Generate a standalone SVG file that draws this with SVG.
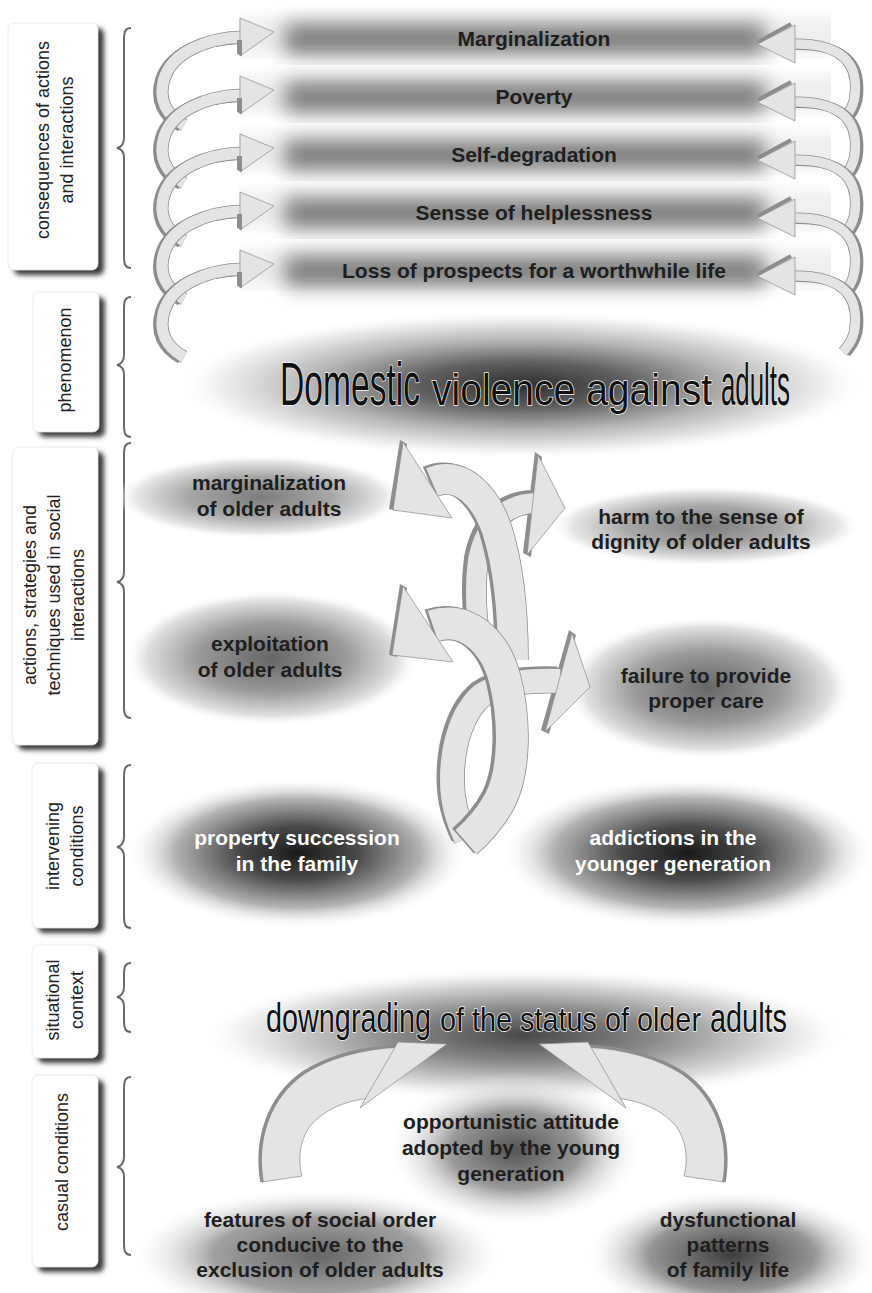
<svg xmlns="http://www.w3.org/2000/svg" width="872" height="1293" viewBox="0 0 872 1293">
<defs>
<style>
.lbl{font-family:"Liberation Sans",Arial,sans-serif;font-size:18px;fill:#222;text-anchor:middle}
.b{font-family:"Liberation Sans",Arial,sans-serif;font-size:21px;font-weight:bold;text-anchor:middle;fill:#1e1e1e}
.w{fill:#fff}
.big{font-family:"Liberation Sans",Arial,sans-serif;fill:#111;stroke:#fff;stroke-width:1.4;paint-order:stroke}
.box{fill:#fff;stroke:#e4e4e4;stroke-width:0.8}
.bsh{fill:#3c3c3c;filter:url(#blur2)}
.brace{fill:none;stroke:#6a6a6a;stroke-width:2}
.rib{fill:none;stroke-linecap:butt}
.rd{stroke:#8d8d8d}
.ro{stroke:#8a8a8a}
.rf{stroke:#e3e4e6}
.head{fill:#e3e4e6;stroke:#8a8a8a;stroke-width:0.7}
.dk{fill:#8d8d8d}
.bar{fill:url(#barG)}
.core{fill:#7c7c7c;filter:url(#blur10)}
</style>
<filter id="blur2" x="-20%" y="-20%" width="140%" height="140%"><feGaussianBlur stdDeviation="2.5"/></filter>
<filter id="blur10" x="-30%" y="-150%" width="160%" height="400%"><feGaussianBlur stdDeviation="10"/></filter>
<linearGradient id="barG" x1="0" y1="0" x2="0" y2="1">
<stop offset="0" stop-color="#ffffff"/><stop offset="0.35" stop-color="#f1f1f1"/><stop offset="0.7" stop-color="#ededed"/><stop offset="1" stop-color="#fbfbfb"/>
</linearGradient>
<radialGradient id="gMid"><stop offset="0" stop-color="#7c7c7c"/><stop offset="0.5" stop-color="#a8a8a8"/><stop offset="0.85" stop-color="#e6e6e6"/><stop offset="1" stop-color="#fff" stop-opacity="0"/></radialGradient>
<radialGradient id="gMid2"><stop offset="0" stop-color="#666"/><stop offset="0.5" stop-color="#999"/><stop offset="0.85" stop-color="#e0e0e0"/><stop offset="1" stop-color="#fff" stop-opacity="0"/></radialGradient>
<radialGradient id="gDark"><stop offset="0" stop-color="#1a1a1a"/><stop offset="0.35" stop-color="#4a4a4a"/><stop offset="0.72" stop-color="#b4b4b4"/><stop offset="1" stop-color="#fff" stop-opacity="0"/></radialGradient>
<radialGradient id="gPhen"><stop offset="0" stop-color="#2e2e2e"/><stop offset="0.3" stop-color="#5f5f5f"/><stop offset="0.6" stop-color="#b5b5b5"/><stop offset="0.85" stop-color="#ececec"/><stop offset="1" stop-color="#fff" stop-opacity="0"/></radialGradient>
<radialGradient id="gDown"><stop offset="0" stop-color="#484848"/><stop offset="0.4" stop-color="#8a8a8a"/><stop offset="0.8" stop-color="#e4e4e4"/><stop offset="1" stop-color="#fff" stop-opacity="0"/></radialGradient>
<radialGradient id="gOpp"><stop offset="0" stop-color="#555"/><stop offset="0.5" stop-color="#999"/><stop offset="1" stop-color="#fff" stop-opacity="0"/></radialGradient>
<radialGradient id="gFeat"><stop offset="0" stop-color="#666"/><stop offset="0.55" stop-color="#a0a0a0"/><stop offset="1" stop-color="#fff" stop-opacity="0"/></radialGradient>
<radialGradient id="gDys"><stop offset="0" stop-color="#3e3e3e"/><stop offset="0.55" stop-color="#959595"/><stop offset="1" stop-color="#fff" stop-opacity="0"/></radialGradient>
<path id="arcL" d="M243,0 C205,1 172,16 164,42 C158,62 166,78 184,88"/>
<path id="arcR" d="M793,0 C828,-1 852,10 855,36 C857,56 852,66 843,76"/>
<polygon id="headL" points="240,-19 274,-5 240,19"/>
<polygon id="headR" points="757,0 795,-19 795,19"/>
<path id="pB1" d="M537,503 C505,503 485,525 478,560 C474,590 476,620 482,650"/>
<path id="pA1" d="M432,482 C460,470 485,495 497,530 C508,565 513,610 513,660"/>
<path id="pB2" d="M560,681 C530,680 500,682 482,695 C462,712 452,745 452,780 C452,805 458,822 466,838"/>
<path id="pA2" d="M433,626 C465,615 495,640 505,680 C515,720 515,770 500,800 C492,815 482,828 466,842"/>
<path id="botArrow" d="M262,1182 C255,1140 268,1098 303,1073 C330,1056 362,1048 398,1046 L372,1098 C345,1100 324,1110 310,1126 C299,1142 298,1160 302,1176 Z"/>
<path id="botEdge" d="M262,1182 C255,1140 268,1098 303,1073 C330,1056 362,1048 398,1046"/>
<polygon id="botHead" points="447,1044 398,1042 360,1108"/>
</defs>

<rect width="872" height="1293" fill="#fff"/>

<g id="blobs">
<ellipse cx="522" cy="385" rx="350" ry="75" fill="url(#gPhen)"/>
<ellipse cx="525" cy="1035" rx="330" ry="68" fill="url(#gDown)"/>
<ellipse cx="515" cy="1150" rx="130" ry="78" fill="url(#gOpp)"/>
<ellipse cx="318" cy="1255" rx="190" ry="68" fill="url(#gFeat)"/>
<ellipse cx="732" cy="1255" rx="150" ry="66" fill="url(#gDys)"/>
</g>

<g id="label-consequences">
<rect class="bsh" x="14" y="28" width="90" height="247" rx="6"/>
<rect class="box" x="8" y="23" width="90" height="247" rx="6"/>
<text class="lbl" transform="translate(55,140) rotate(-90)"><tspan x="0" y="-6">consequences of actions</tspan><tspan x="0" y="18">and interactions</tspan></text>
<path class="brace" d="M131,28 C125,28 124,32 124,40 L124,138 C124,144 122,147 117,148 C122,149 124,152 124,158 L124,256 C124,264 125,268 131,268"/>
</g>
<g id="label-phenomenon">
<rect class="bsh" x="39" y="297" width="66" height="140" rx="6"/>
<rect class="box" x="33" y="292" width="66" height="140" rx="6"/>
<text class="lbl" transform="translate(65,360) rotate(-90)"><tspan x="0" y="6">phenomenon</tspan></text>
<path class="brace" d="M131,297 C125,297 124,301 124,309 L124,355 C124,361 122,364 117,365 C122,366 124,369 124,375 L124,425 C124,433 125,437 131,437"/>
</g>
<g id="label-actions">
<rect class="bsh" x="18" y="452" width="86" height="298" rx="6"/>
<rect class="box" x="12" y="447" width="86" height="298" rx="6"/>
<text class="lbl" transform="translate(54,595) rotate(-90)"><tspan x="0" y="-18">actions, strategies and</tspan><tspan x="0" y="6">techniques used in social</tspan><tspan x="0" y="30">interactions</tspan></text>
<path class="brace" d="M131,443 C125,443 124,447 124,455 L124,572 C124,578 122,581 117,582 C122,583 124,586 124,592 L124,706 C124,714 125,718 131,718"/>
</g>
<g id="label-intervening">
<rect class="bsh" x="38" y="768" width="66" height="165" rx="6"/>
<rect class="box" x="32" y="763" width="66" height="165" rx="6"/>
<text class="lbl" transform="translate(65,846) rotate(-90)"><tspan x="0" y="-6">intervening</tspan><tspan x="0" y="18">conditions</tspan></text>
<path class="brace" d="M131,765 C125,765 124,769 124,777 L124,837 C124,843 122,846 117,847 C122,848 124,851 124,857 L124,916 C124,924 125,928 131,928"/>
</g>
<g id="label-situational">
<rect class="bsh" x="38" y="950" width="66" height="113" rx="6"/>
<rect class="box" x="32" y="945" width="66" height="113" rx="6"/>
<text class="lbl" transform="translate(65,1000) rotate(-90)"><tspan x="0" y="-6">situational</tspan><tspan x="0" y="18">context</tspan></text>
<path class="brace" d="M131,963 C125,963 124,967 124,975 L124,987 C124,993 122,996 117,997 C122,998 124,1001 124,1007 L124,1020 C124,1028 125,1032 131,1032"/>
</g>
<g id="label-casual">
<rect class="bsh" x="38" y="1080" width="66" height="192" rx="6"/>
<rect class="box" x="32" y="1075" width="66" height="192" rx="6"/>
<text class="lbl" transform="translate(62,1162) rotate(-90)"><tspan x="0" y="6">casual conditions</tspan></text>
<path class="brace" d="M131,1077 C125,1077 124,1081 124,1089 L124,1157 C124,1163 122,1166 117,1167 C122,1168 124,1171 124,1177 L124,1243 C124,1251 125,1255 131,1255"/>
</g>

<g id="bar-marginalization"><rect class="bar" x="239" y="7" width="592" height="52"/><rect class="core" x="285" y="24" width="480" height="30"/><text class="b" x="534" y="46">Marginalization</text></g>
<g id="bar-poverty"><rect class="bar" x="239" y="65" width="592" height="52"/><rect class="core" x="285" y="82" width="480" height="30"/><text class="b" x="534" y="104">Poverty</text></g>
<g id="bar-selfdegradation"><rect class="bar" x="239" y="123" width="592" height="52"/><rect class="core" x="285" y="140" width="480" height="30"/><text class="b" x="534" y="162">Self-degradation</text></g>
<g id="bar-helplessness"><rect class="bar" x="239" y="181" width="592" height="52"/><rect class="core" x="285" y="198" width="480" height="30"/><text class="b" x="534" y="220">Sensse of helplessness</text></g>
<g id="bar-loss"><rect class="bar" x="239" y="239" width="592" height="52"/><rect class="core" x="285" y="256" width="480" height="30"/><text class="b" x="534" y="278">Loss of prospects for a worthwhile life</text></g>

<g id="phenomenon">
<text class="big" font-size="62" transform="translate(280,405) scale(0.542,1)">Domestic</text>
<text class="big" font-size="45" transform="translate(432,405) scale(0.868,1)">violence against</text>
<text class="big" font-size="59" transform="translate(721,405) scale(0.438,1)">adults</text>
</g>

<g id="node-marginalization">
<ellipse cx="260" cy="497" rx="145" ry="42" fill="url(#gMid)"/>
<text class="b" x="269" y="490">marginalization</text>
<text class="b" x="269" y="516">of older adults</text>
</g>
<g id="node-exploitation">
<ellipse cx="272" cy="658" rx="148" ry="68" fill="url(#gMid2)"/>
<text class="b" x="270" y="651">exploitation</text>
<text class="b" x="270" y="677">of older adults</text>
</g>
<g id="node-harm">
<ellipse cx="705" cy="526" rx="157" ry="40" fill="url(#gMid)"/>
<text class="b" x="701" y="524">harm to the sense of</text>
<text class="b" x="701" y="549">dignity of older adults</text>
</g>
<g id="node-failure">
<ellipse cx="708" cy="688" rx="145" ry="72" fill="url(#gMid2)"/>
<text class="b" x="706" y="683">failure to provide</text>
<text class="b" x="706" y="708">proper care</text>
</g>

<g id="node-property">
<ellipse cx="298" cy="853" rx="172" ry="76" fill="url(#gDark)"/>
<text class="b w" x="297" y="845">property succession</text>
<text class="b w" x="297" y="871">in the family</text>
</g>
<g id="node-addictions">
<ellipse cx="688" cy="853" rx="188" ry="76" fill="url(#gDark)"/>
<text class="b w" x="673" y="845">addictions in the</text>
<text class="b w" x="673" y="871">younger generation</text>
</g>

<g id="node-downgrading">
<text class="big" font-size="41" transform="translate(266,1032) scale(0.703,1)">downgrading</text>
<text class="big" font-size="33" transform="translate(440,1031) scale(0.873,1)">of the status of older</text>
<text class="big" font-size="41" transform="translate(710,1032) scale(0.704,1)">adults</text>
</g>

<g id="node-opportunistic">
<text class="b" x="511" y="1129">opportunistic attitude</text>
<text class="b" x="511" y="1155">adopted by the young</text>
<text class="b" x="511" y="1181">generation</text>
</g>
<g id="node-features">
<text class="b" x="320" y="1227">features of social order</text>
<text class="b" x="320" y="1252">conducive to the</text>
<text class="b" x="320" y="1277">exclusion of older adults</text>
</g>
<g id="node-dysfunctional">
<text class="b" x="728" y="1227">dysfunctional</text>
<text class="b" x="728" y="1252">patterns</text>
<text class="b" x="728" y="1277">of family life</text>
</g>

<g id="connectors">
<g id="coil-left">
<g transform="translate(0,37)"><use href="#arcL" class="rib rd" stroke-width="12" transform="translate(-3,1)"/><use href="#arcL" class="rib ro" stroke-width="13"/><use href="#arcL" class="rib rf" stroke-width="11.5"/><use href="#headL" class="head"/><polygon class="dk" points="237,3 242,3 242,19 237,17"/></g>
<g transform="translate(0,95)"><use href="#arcL" class="rib rd" stroke-width="12" transform="translate(-3,1)"/><use href="#arcL" class="rib ro" stroke-width="13"/><use href="#arcL" class="rib rf" stroke-width="11.5"/><use href="#headL" class="head"/><polygon class="dk" points="237,3 242,3 242,19 237,17"/></g>
<g transform="translate(0,153)"><use href="#arcL" class="rib rd" stroke-width="12" transform="translate(-3,1)"/><use href="#arcL" class="rib ro" stroke-width="13"/><use href="#arcL" class="rib rf" stroke-width="11.5"/><use href="#headL" class="head"/><polygon class="dk" points="237,3 242,3 242,19 237,17"/></g>
<g transform="translate(0,211)"><use href="#arcL" class="rib rd" stroke-width="12" transform="translate(-3,1)"/><use href="#arcL" class="rib ro" stroke-width="13"/><use href="#arcL" class="rib rf" stroke-width="11.5"/><use href="#headL" class="head"/><polygon class="dk" points="237,3 242,3 242,19 237,17"/></g>
<g transform="translate(0,269)"><use href="#arcL" class="rib rd" stroke-width="12" transform="translate(-3,1)"/><use href="#arcL" class="rib ro" stroke-width="13"/><use href="#arcL" class="rib rf" stroke-width="11.5"/><use href="#headL" class="head"/><polygon class="dk" points="237,3 242,3 242,19 237,17"/></g>
</g>
<g id="coil-right">
<g transform="translate(0,44)"><use href="#arcR" class="rib rd" stroke-width="10" transform="translate(3,1)"/><use href="#arcR" class="rib ro" stroke-width="11"/><use href="#arcR" class="rib rf" stroke-width="9.5"/><use href="#headR" class="head"/><line x1="758" y1="-2" x2="791" y2="-20" stroke="#8d8d8d" stroke-width="4"/></g>
<g transform="translate(0,102)"><use href="#arcR" class="rib rd" stroke-width="10" transform="translate(3,1)"/><use href="#arcR" class="rib ro" stroke-width="11"/><use href="#arcR" class="rib rf" stroke-width="9.5"/><use href="#headR" class="head"/><line x1="758" y1="-2" x2="791" y2="-20" stroke="#8d8d8d" stroke-width="4"/></g>
<g transform="translate(0,160)"><use href="#arcR" class="rib rd" stroke-width="10" transform="translate(3,1)"/><use href="#arcR" class="rib ro" stroke-width="11"/><use href="#arcR" class="rib rf" stroke-width="9.5"/><use href="#headR" class="head"/><line x1="758" y1="-2" x2="791" y2="-20" stroke="#8d8d8d" stroke-width="4"/></g>
<g transform="translate(0,218)"><use href="#arcR" class="rib rd" stroke-width="10" transform="translate(3,1)"/><use href="#arcR" class="rib ro" stroke-width="11"/><use href="#arcR" class="rib rf" stroke-width="9.5"/><use href="#headR" class="head"/><line x1="758" y1="-2" x2="791" y2="-20" stroke="#8d8d8d" stroke-width="4"/></g>
<g transform="translate(0,276)"><use href="#arcR" class="rib rd" stroke-width="10" transform="translate(3,1)"/><use href="#arcR" class="rib ro" stroke-width="11"/><use href="#arcR" class="rib rf" stroke-width="9.5"/><use href="#headR" class="head"/><line x1="758" y1="-2" x2="791" y2="-20" stroke="#8d8d8d" stroke-width="4"/></g>
</g>

<g id="twisted-arrows">
<polygon class="dk" points="535,452 542,457 531,557 523,553"/>
<use href="#pB1" class="rib rd" stroke-width="22" transform="translate(-3,-2)"/>
<use href="#pB1" class="rib ro" stroke-width="21.5"/>
<use href="#pB1" class="rib rf" stroke-width="20"/>
<polygon class="head" points="538,455 565,508 527,555"/>

<use href="#pA1" class="rib rd" stroke-width="31" transform="translate(-3,-1)"/>
<use href="#pA1" class="rib ro" stroke-width="31.5"/>
<use href="#pA1" class="rib rf" stroke-width="30"/>
<polygon class="dk" points="400,440 407,444 397,511 389,509"/>
<polygon class="head" points="403,442 452,518 393,510"/>

<polygon class="dk" points="569,630 576,635 549,734 541,730"/>
<use href="#pB2" class="rib rd" stroke-width="25" transform="translate(-3,-2)"/>
<use href="#pB2" class="rib ro" stroke-width="25.5"/>
<use href="#pB2" class="rib rf" stroke-width="24"/>
<polygon class="head" points="572,633 590,687 545,732"/>

<use href="#pA2" class="rib rd" stroke-width="33" transform="translate(-3,-1)"/>
<use href="#pA2" class="rib ro" stroke-width="33.5"/>
<use href="#pA2" class="rib rf" stroke-width="32"/>
<polygon class="dk" points="400,584 407,588 397,657 389,655"/>
<polygon class="head" points="403,586 453,662 392,655"/>
</g>

<g id="arrow-features-downgrading">
<use href="#botArrow" class="head"/>
<use href="#botEdge" fill="none" stroke="#8d8d8d" stroke-width="3.5"/>
<use href="#botHead" class="head"/>
</g>
<g id="arrow-dysfunctional-downgrading" transform="translate(986,0) scale(-1,1)">
<use href="#botArrow" class="head"/>
<use href="#botEdge" fill="none" stroke="#8d8d8d" stroke-width="3.5"/>
<use href="#botHead" class="head"/>
</g>
</g>
</svg>
